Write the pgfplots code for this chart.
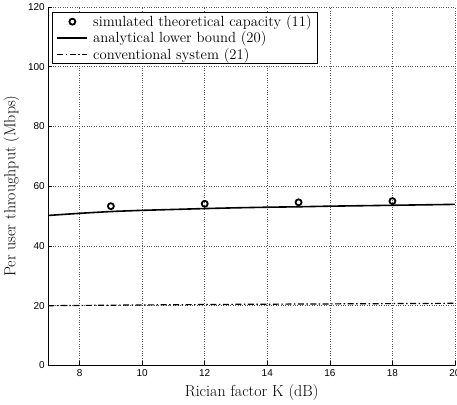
\documentclass[border=0pt]{standalone}
\usepackage{fontspec}
\usepackage{pgfplots}
\pgfplotsset{compat=1.18}
\usetikzlibrary{calc}
\newfontfamily\ticksans{Liberation Sans}

\pgfplotsset{
  wide line sample/.style={legend image code/.code={\draw[##1] (0bp,0bp) -- (30bp,0bp);}},
  wide mark sample/.style={legend image code/.code={\draw[##1, mark repeat=2, mark phase=2]
    plot coordinates {(0bp,0bp) (15bp,0bp) (30bp,0bp)};}},
}

\begin{document}
\begin{tikzpicture}
\begin{axis}[
  scale only axis,
  width=406bp, height=358bp,
  xmin=7, xmax=20, ymin=0, ymax=120,
  xtick={8,10,...,20}, ytick={0,20,...,120},
  axis x line*=bottom, axis y line*=left,
  axis line style={line width=0.8pt, -},
  tick align=inside,
  major tick length=4bp,
  tick style={line width=0.6pt, black},
  grid=major,
  major grid style={dotted, line width=0.6pt, black!65},
  /pgf/number format/assume math mode=true,
  tick label style={font=\ticksans\fontsize{10}{12}\selectfont},
  xticklabel style={yshift=-1bp},
  label style={font=\fontsize{16}{18}\selectfont},
  xlabel={Rician factor K (dB)},
  ylabel={Per user throughput (Mbps)},
  xlabel style={yshift=-1bp},
  ylabel style={yshift=2bp},
  legend style={at={(axis cs:7.12,118.3)}, anchor=north west,
    draw=black, line width=1pt, fill=white,
    font=\fontsize{14.7}{17}\selectfont,
    inner xsep=4bp, inner ysep=1pt, row sep=0pt,
    /tikz/every odd column/.append style={column sep=3bp}},
  legend cell align=left,
]
% simulated capacity points
\addplot[only marks, mark=o, mark size=3pt, line width=1.8pt, black, wide mark sample]
  coordinates {(9,53.3) (12,54.1) (15,54.6) (18,55.0)};
\addlegendentry{simulated theoretical capacity (11)}
% analytical lower bound
\addplot[line width=1.6pt, black, smooth, wide line sample]
  coordinates {(7,50.2) (8,50.9) (9,51.5) (10,51.9) (11,52.2) (12,52.5)
    (13,52.75) (14,52.95) (15,53.1) (16,53.3) (17,53.45) (18,53.6) (19,53.75) (20,53.9)};
\addlegendentry{analytical lower bound (20)}
% conventional system
\addplot[line width=1.2pt, black, dash pattern=on 6pt off 2.5pt on 1.5pt off 2.5pt, wide line sample]
  coordinates {(7,20.0) (10,20.25) (13,20.45) (16,20.6) (20,20.8)};
\addlegendentry{conventional system (21)}
\end{axis}
\pgfresetboundingbox
\path[use as bounding box] (current axis.outer south west) rectangle
  ($(current axis.outer north east -| current axis.east)+(2bp,0)$);
\end{tikzpicture}
\end{document}
